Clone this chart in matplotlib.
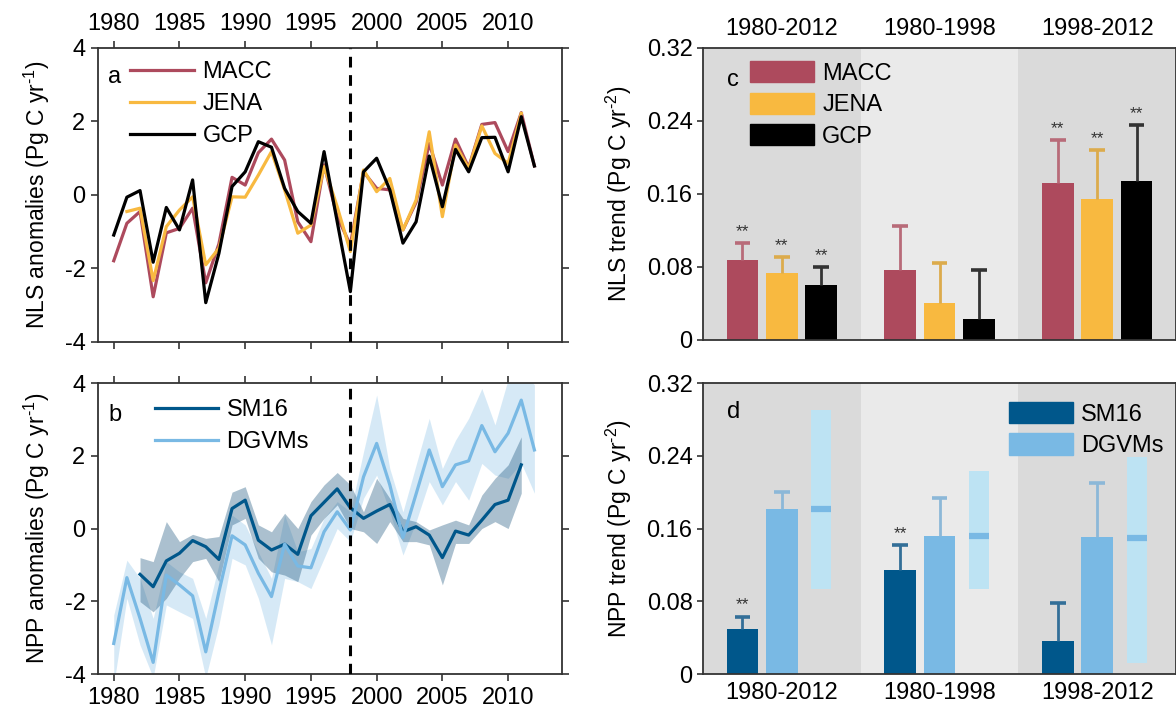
import numpy as np
import matplotlib
matplotlib.use("Agg")
import matplotlib.pyplot as plt
from matplotlib.patches import Patch

plt.rcParams['font.family'] = ['Liberation Sans', 'DejaVu Sans']
plt.rcParams['mathtext.fontset'] = 'custom'
plt.rcParams['mathtext.rm'] = 'Liberation Sans'
plt.rcParams['mathtext.default'] = 'regular'
plt.rcParams['axes.unicode_minus'] = False
plt.rcParams['font.size'] = 16.5

# ---- panel a : land sink anomalies
years = np.arange(1980, 2013)
years_jena = np.arange(1981, 2012)
macc = [-1.79, -0.77, -0.45, -2.77, -1.03, -0.91, -0.36, -2.39, -1.33, 0.48, 0.27,
        1.15, 1.52, 0.95, -0.73, -1.27, 0.82, -0.59, -1.36, 0.63, 0.18, 0.14, -0.95,
        -0.20, 1.40, 0.27, 1.52, 0.75, 1.92, 1.97, 1.18, 2.24, 0.79]
jena = [-0.45, -0.36, -2.33, -0.86, -0.41, -0.05, -1.90, -1.45, -0.05, -0.06, 0.54,
        1.18, 0.14, -1.04, -0.82, 0.77, -0.32, -1.54, 0.68, 0.09, 0.45, -0.95, -0.14,
        1.72, -0.59, 1.36, 0.72, 1.88, 1.13, 0.86, 2.22]
gcp = [-1.09, -0.06, 0.12, -1.83, -0.34, -0.95, 0.41, -2.93, -1.59, 0.23, 0.63,
       1.45, 1.30, 0.18, -0.45, -0.77, 1.18, -0.73, -2.63, 0.63, 1.00, 0.14, -1.31,
       -0.73, 1.06, -0.32, 1.24, 0.63, 1.56, 1.57, 0.63, 2.13, 0.79]

# ---- panel b : NPP anomalies
years_sm16 = np.arange(1982, 2012)
dgvm = [-3.16, -1.35, -2.47, -3.68, -1.28, -1.55, -1.85, -3.39, -1.74, -0.20, -0.45,
        -1.23, -1.87, -0.43, -1.03, -1.08, -0.09, 0.46, -0.04, 1.42, 2.34, 1.20, -0.25,
        0.95, 2.16, 1.15, 1.75, 1.86, 2.83, 2.11, 2.62, 3.53, 2.16]
dgvm_hi = [-2.38, -0.87, -1.37, -2.47, -0.91, -1.19, -1.37, -2.47, -0.99, 0.37, 0.10,
           -0.65, -1.37, 0.37, -0.64, -0.55, 0.28, 0.74, 0.46, 2.11, 3.67, 1.65, 0.46,
           1.75, 3.03, 1.65, 2.43, 3.03, 3.85, 2.85, 4.10, 4.40, 3.95]
dgvm_lo = [-4.30, -1.92, -3.20, -4.10, -2.10, -2.29, -2.47, -4.10, -2.65, -0.82, -1.00,
           -1.92, -3.20, -1.37, -1.46, -1.65, -0.82, 0.00, -0.36, 0.83, 1.47, 0.46, -0.73,
           0.19, 1.29, 0.65, 1.29, 0.78, 1.79, 1.47, 1.38, 1.80, 0.97]
sm16 = [-1.26, -1.60, -0.89, -0.68, -0.33, -0.50, -0.85, 0.55, 0.78, -0.32, -0.59,
        -0.43, -0.71, 0.35, 0.72, 1.09, 0.57, 0.28, 0.48, 0.66, -0.09, 0.05, -0.18,
        -0.80, -0.07, -0.18, 0.23, 0.66, 0.78, 1.75]
sm16_hi = [-0.80, -0.91, 0.19, -0.36, -0.16, -0.27, -0.22, 1.00, 1.15, 0.10, -0.09,
           0.42, 0.00, 0.74, 1.20, 1.54, 1.20, 0.46, 1.38, 0.83, 0.28, 0.19, -0.04,
           0.10, 0.23, 0.10, 0.92, 1.38, 1.75, 2.52]
sm16_lo = [-2.01, -2.29, -1.92, -1.37, -0.91, -0.82, -1.46, 0.10, 0.28, -0.82, -1.19,
           -1.28, -1.46, -0.18, 0.28, 0.65, 0.00, -0.09, -0.41, 0.19, -0.36, -0.36, -0.45,
           -1.55, -0.41, -0.41, 0.00, 0.19, 0.00, 0.97]

# ---- panels c, d : trends
periods = ['1980-2012', '1980-1998', '1998-2012']
macc_tr = [0.0881, 0.0767, 0.1717]
macc_err = [0.0181, 0.0485, 0.0473]
jena_tr = [0.0739, 0.0407, 0.1543]
jena_err = [0.0170, 0.0437, 0.0539]
gcp_tr = [0.0600, 0.0226, 0.1743]
gcp_err = [0.0200, 0.0538, 0.0615]
nls_sig = [True, False, True]

sm16_tr = [0.0499, 0.1144, 0.0367]
sm16_err = [0.0131, 0.0272, 0.0418]
sm16_sig = [True, True, False]
dgvm_tr = [0.1812, 0.1519, 0.1504]
dgvm_err = [0.0191, 0.0414, 0.0594]
dgvm_min = [0.0935, 0.0932, 0.0117]
dgvm_max = [0.2905, 0.2234, 0.2390]
dgvm_med = [0.1815, 0.1520, 0.1500]

c_macc, c_jena, c_gcp = '#ad4a5d', '#f8b940', '#000000'
c_sm16, c_dgvm = '#00578b', '#79b9e4'
spine_c = '#333333'

fig = plt.figure(figsize=(11.76, 7.15), dpi=100)
ax_a = fig.add_axes([0.0833, 0.5217, 0.3946, 0.4112])
ax_b = fig.add_axes([0.0833, 0.0573, 0.3946, 0.4070])
ax_c = fig.add_axes([0.5978, 0.5245, 0.4022, 0.4084])
ax_d = fig.add_axes([0.5978, 0.0573, 0.4022, 0.4070])


def style_ts(ax, top_labels):
    ax.set_xlim(1978.8, 2014.1)
    ax.set_ylim(-4, 4)
    ax.set_xticks([1980, 1985, 1990, 1995, 2000, 2005, 2010])
    ax.set_yticks([-4, -2, 0, 2, 4])
    ax.tick_params(direction='out', length=5, width=1.2, color=spine_c,
                   top=True, right=True, labeltop=top_labels, labelbottom=not top_labels,
                   labelsize=17, pad=4)
    for s in ax.spines.values():
        s.set_color(spine_c)
        s.set_linewidth(1.3)
    ax.axvline(1998, color='black', ls=(0, (3.5, 2.5)), lw=2.2, zorder=5)


# panel a
ax_a.plot(years, macc, color=c_macc, lw=2.3, label='MACC')
ax_a.plot(years_jena, jena, color=c_jena, lw=2.3, label='JENA')
ax_a.plot(years, gcp, color=c_gcp, lw=2.3, label='GCP')
style_ts(ax_a, True)
ax_a.set_ylabel('NLS anomalies (Pg C yr$^{\\text{-}1}$)', labelpad=9)
ax_a.legend(loc='upper left', bbox_to_anchor=(0.07, 0.955), frameon=False,
            handlelength=2.7, handletextpad=0.35, labelspacing=0.42, borderpad=0,
            borderaxespad=0, fontsize=17)
ax_a.text(0.022, 0.9, 'a', transform=ax_a.transAxes, fontsize=17, va='center')

# panel b
ax_b.fill_between(years, dgvm_lo, dgvm_hi, color=c_dgvm, alpha=0.3, lw=0)
ax_b.fill_between(years_sm16, sm16_lo, sm16_hi, color='#17527a', alpha=0.36, lw=0)
ax_b.plot(years_sm16, sm16, color=c_sm16, lw=2.3, label='SM16')
ax_b.plot(years, dgvm, color=c_dgvm, lw=2.3, label='DGVMs')
style_ts(ax_b, False)
ax_b.set_ylabel('NPP anomalies (Pg C yr$^{\\text{-}1}$)', labelpad=9)
ax_b.legend(loc='upper left', bbox_to_anchor=(0.122, 0.945), frameon=False,
            handlelength=2.7, handletextpad=0.35, labelspacing=0.42, borderpad=0,
            borderaxespad=0, fontsize=17)
ax_b.text(0.022, 0.89, 'b', transform=ax_b.transAxes, fontsize=17, va='center')


def style_bar(ax, top_labels):
    ax.set_xlim(0.5, 3.5)
    ax.set_ylim(0, 0.32)
    ax.axvspan(0.5, 1.5, color='#dadada', lw=0, zorder=0)
    ax.axvspan(1.5, 2.5, color='#eaeaea', lw=0, zorder=0)
    ax.axvspan(2.5, 3.5, color='#dadada', lw=0, zorder=0)
    ax.set_xticks([1, 2, 3])
    ax.set_xticklabels(periods)
    ax.set_yticks([0, 0.08, 0.16, 0.24, 0.32])
    ax.set_yticklabels(['0', '0.08', '0.16', '0.24', '0.32'])
    ax.tick_params(axis='x', length=0, labeltop=top_labels, labelbottom=not top_labels,
                   labelsize=17, pad=6)
    ax.tick_params(axis='y', direction='out', length=4, width=1.2, color=spine_c,
                   labelsize=17)
    for s in ax.spines.values():
        s.set_color(spine_c)
        s.set_linewidth(1.3)


def bars(ax, xs, vals, errs, sig, color, ecolor):
    ax.bar(xs, vals, width=0.2, color=color, zorder=2)
    tops = np.array(vals) + np.array(errs)
    ax.vlines(xs, vals, tops, color=ecolor, lw=2.0, zorder=3)
    ax.hlines(tops, np.array(xs) - 0.05, np.array(xs) + 0.05, color=ecolor, lw=2.6, zorder=3)
    for x, t, s in zip(xs, tops, sig):
        if s:
            ax.annotate('**', (x, t), xytext=(0, 3), textcoords='offset points',
                        ha='center', va='bottom', fontsize=12.5, color='#333333')


pos = np.array([1, 2, 3])

# panel c
style_bar(ax_c, True)
bars(ax_c, pos - 0.25, macc_tr, macc_err, nls_sig, c_macc, '#b86b79')
bars(ax_c, pos, jena_tr, jena_err, nls_sig, c_jena, '#dcab4c')
bars(ax_c, pos + 0.25, gcp_tr, gcp_err, nls_sig, c_gcp, '#333333')
ax_c.set_ylabel('NLS trend (Pg C yr$^{\\text{-}2}$)', labelpad=9)
h_c = [Patch(color=c_macc), Patch(color=c_jena), Patch(color=c_gcp)]
ax_c.legend(h_c, ['MACC', 'JENA', 'GCP'], loc='upper left', bbox_to_anchor=(0.1, 0.955),
            frameon=False, handlelength=2.7, handleheight=1.0, handletextpad=0.35,
            labelspacing=0.33, borderpad=0, borderaxespad=0, fontsize=17)
ax_c.text(0.05, 0.89, 'c', transform=ax_c.transAxes, fontsize=17, va='center')

# panel d
style_bar(ax_d, False)
bars(ax_d, pos - 0.25, sm16_tr, sm16_err, sm16_sig, c_sm16, '#336f98')
bars(ax_d, pos, dgvm_tr, dgvm_err, [False] * 3, c_dgvm, '#8cb8d8')
ax_d.bar(pos + 0.25, np.array(dgvm_max) - np.array(dgvm_min), bottom=dgvm_min,
         width=0.127, color='#bde3f3', zorder=2)
ax_d.hlines(dgvm_med, pos + 0.25 - 0.0635, pos + 0.25 + 0.0635, color=c_dgvm, lw=4.5, zorder=3)
ax_d.set_ylabel('NPP trend (Pg C yr$^{\\text{-}2}$)', labelpad=9)
h_d = [Patch(color=c_sm16), Patch(color=c_dgvm)]
ax_d.legend(h_d, ['SM16', 'DGVMs'], loc='upper left', bbox_to_anchor=(0.647, 0.935),
            frameon=False, handlelength=2.7, handleheight=1.0, handletextpad=0.35,
            labelspacing=0.33, borderpad=0, borderaxespad=0, fontsize=17)
ax_d.text(0.05, 0.9, 'd', transform=ax_d.transAxes, fontsize=17, va='center')

fig.savefig('out.png', dpi=100)
